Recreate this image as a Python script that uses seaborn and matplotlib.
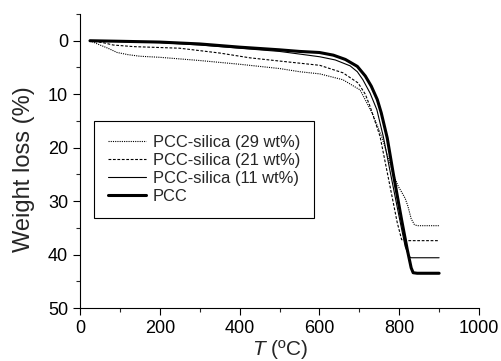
import pandas as pd
import numpy as np
import matplotlib.pyplot as plt
import seaborn as sns
from matplotlib.ticker import MultipleLocator

sns.set_style("ticks")
plt.rcParams['font.family'] = ['Liberation Sans', 'DejaVu Sans']
plt.rcParams['mathtext.fontset'] = 'custom'
plt.rcParams['mathtext.rm'] = 'Liberation Sans'
plt.rcParams['mathtext.it'] = 'Liberation Sans:italic'

# TGA curves: temperature (C) and weight loss (%)
t_29 = [25, 50, 70, 93, 120, 150, 200, 300, 400, 500, 551, 601, 659, 702, 732, 757, 785, 798, 806, 815, 822, 830, 838, 845, 900]
loss_29 = [0, 0.8, 1.4, 2.2, 2.6, 2.9, 3.1, 3.7, 4.4, 5.2, 5.8, 6.2, 7.3, 9.2, 13.5, 18.1, 25.0, 27.3, 28.3, 29.5, 31.0, 33.3, 34.4, 34.6, 34.6]

t_21 = [25, 60, 83, 134, 250, 350, 426, 500, 551, 601, 659, 697, 715, 727, 752, 775, 795, 806, 812, 900]
loss_21 = [0, 0.4, 0.8, 1.1, 1.4, 2.3, 3.2, 3.8, 4.2, 4.6, 6.0, 7.9, 10.0, 12.3, 17.9, 26.5, 34.0, 37.2, 37.4, 37.4]

t_11 = [25, 100, 200, 300, 400, 500, 551, 601, 640, 677, 695, 709, 727, 744, 760, 780, 800, 815, 825, 830, 900]
loss_11 = [0, 0.15, 0.35, 0.8, 1.4, 2.0, 2.5, 3.0, 3.6, 4.7, 5.8, 7.3, 9.8, 12.9, 17.9, 25.5, 33.0, 38.5, 40.4, 40.6, 40.6]

t_pcc = [25, 100, 200, 300, 400, 500, 550, 600, 635, 665, 695, 715, 730, 745, 755, 770, 785, 806, 820, 830, 835, 845, 900]
loss_pcc = [0, 0.1, 0.25, 0.6, 1.2, 1.7, 2.0, 2.2, 2.7, 3.5, 4.8, 6.6, 8.5, 11.0, 13.5, 18.2, 24.8, 33.5, 39.0, 42.5, 43.4, 43.5, 43.5]

labels = ["PCC-silica (29 wt%)", "PCC-silica (21 wt%)", "PCC-silica (11 wt%)", "PCC"]
temps = [t_29, t_21, t_11, t_pcc]
losses = [loss_29, loss_21, loss_11, loss_pcc]
styles = [(0, (1, 1)), (0, (2.5, 1.5)), '-', '-']
widths = [0.8, 0.8, 0.8, 2.2]

fig = plt.figure(figsize=(5.01, 3.61), dpi=100)
ax = fig.add_axes([0.1597, 0.1468, 0.7964, 0.8144])

for lab, t, l, ls, lw in zip(labels, temps, losses, styles, widths):
    df = pd.DataFrame({'T': t, 'loss': l})
    sns.lineplot(data=df, x='T', y='loss', ax=ax, color='black', linestyle=ls,
                 linewidth=lw, label=lab, sort=False)

ax.set_xlim(0, 1000)
ax.set_ylim(50, -5)
ax.xaxis.set_major_locator(MultipleLocator(200))
ax.xaxis.set_minor_locator(MultipleLocator(100))
ax.yaxis.set_minor_locator(MultipleLocator(5))
ax.set_yticks([0, 10, 20, 30, 40, 50])
ax.tick_params(which='major', direction='out', length=5, width=0.8, labelsize=13, colors='black')
ax.tick_params(which='minor', direction='out', length=3, width=0.8)
sns.despine(ax=ax)
for s in ['left', 'bottom']:
    ax.spines[s].set_color('black')
    ax.spines[s].set_linewidth(0.8)

ax.set_xlabel(r"$T$ (ºC)", fontsize=15, labelpad=1)
ax.set_ylabel("Weight loss (%)", fontsize=17)
ax.yaxis.set_label_coords(-0.113, 0.474)

leg = ax.legend(loc='upper left', bbox_to_anchor=(0.035, 0.636), borderaxespad=0,
                fontsize=11.9, handlelength=2.3, handletextpad=0.4, labelspacing=0.18,
                fancybox=False, framealpha=1, edgecolor='black', borderpad=0.85)
leg.get_frame().set_linewidth(0.8)

fig.savefig("out.png", dpi=100)
